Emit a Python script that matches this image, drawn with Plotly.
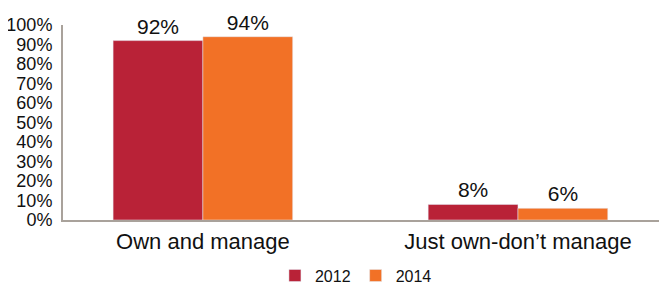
import plotly.graph_objects as go

categories = ["Own and manage", "Just own-don’t manage"]
series_names = ["2012", "2014"]
values_2012 = [92, 8]
values_2014 = [94, 6]
colors = ["#B92237", "#F27126"]
y_ticks = list(range(0, 101, 10))
y_tick_labels = [f"{v}%" for v in y_ticks]

fig = go.Figure()
for name, vals, col in zip(series_names, [values_2012, values_2014], colors):
    fig.add_trace(go.Bar(
        x=categories, y=vals, name=name, marker_color=col,
        text=[f"{v}%" for v in vals], textposition="outside",
        textfont=dict(size=21, color="#111111"), cliponaxis=False,
    ))

# page body has an 8px default margin, so the figure is sized to fit the window
fig.update_layout(
    width=659, height=279,
    margin=dict(l=55, r=0, t=17, b=67, autoexpand=False),
    barmode="group", bargap=0.43, bargroupgap=0,
    plot_bgcolor="white", paper_bgcolor="white",
    font=dict(family="Liberation Sans, Arial, sans-serif", color="#111111"),
    showlegend=True,
    legend=dict(orientation="h", x=0.485, xanchor="center",
                y=-0.285, yanchor="middle",
                font=dict(size=16), itemwidth=30, traceorder="normal"),
    xaxis=dict(range=[-0.444, 1.473], showline=True, linecolor="#A9A29B", linewidth=2,
               ticks="", tickfont=dict(size=22), showgrid=False, zeroline=False,
               automargin=False, ticklabelstandoff=1),
    yaxis=dict(range=[0, 100], tickvals=y_ticks, ticktext=y_tick_labels,
               showline=True, linecolor="#A9A29B", linewidth=2, ticks="",
               tickfont=dict(size=18), showgrid=False, zeroline=False,
               automargin=False, ticklabelstandoff=5),
)
fig.write_html("out.html")
